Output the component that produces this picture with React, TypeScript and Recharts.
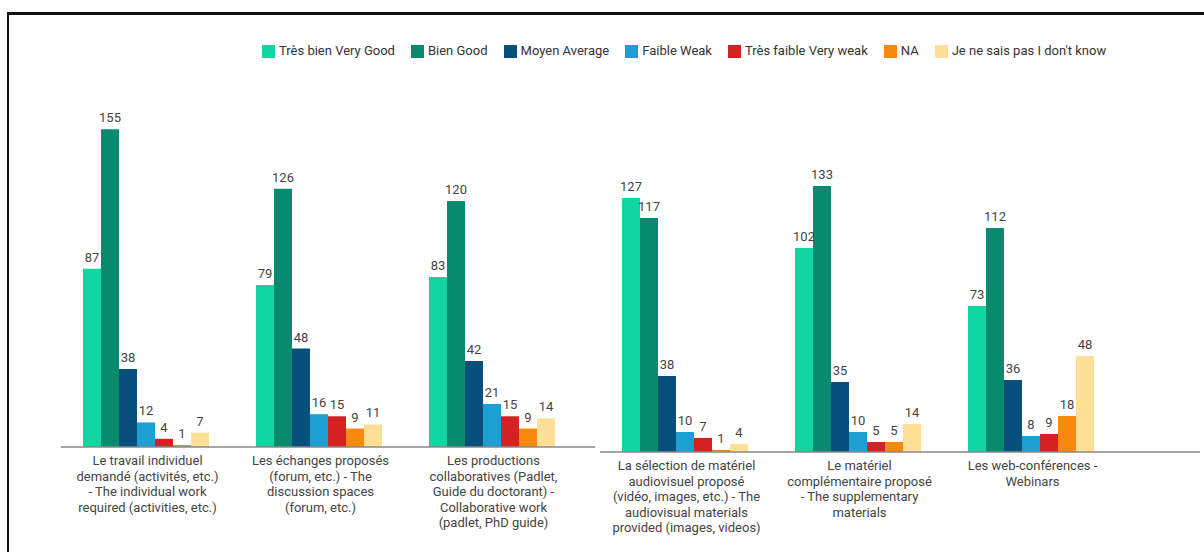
import React from "react";
import { BarChart, Bar, XAxis, YAxis, Legend, LabelList } from "recharts";

// categories (tick labels are split on "\n", as wrapped in the picture)
const categories = [
  "Le travail individuel\ndemandé (activités, etc.)\n- The individual work\nrequired (activities, etc.)",
  "Les échanges proposés\n(forum, etc.) - The\ndiscussion spaces\n(forum, etc.)",
  "Les productions\ncollaboratives (Padlet,\nGuide du doctorant) -\nCollaborative work\n(padlet, PhD guide)",
  "La sélection de matériel\naudiovisuel proposé\n(vidéo, images, etc.) - The\naudiovisual materials\nprovided (images, videos)",
  "Le matériel\ncomplémentaire proposé\n- The supplementary\nmaterials",
  "Les web-conférences -\nWebinars",
];

const tresBien = [87, 79, 83, 127, 102, 73];
const bien = [155, 126, 120, 117, 133, 112];
const moyen = [38, 48, 42, 38, 35, 36];
const faible = [12, 16, 21, 10, 10, 8];
const tresFaible = [4, 15, 15, 7, 5, 9];
const na = [1, 9, 9, 1, 5, 18];
const nsp = [7, 11, 14, 4, 14, 48];

const series = [
  { key: "tresBien", name: "Très bien Very Good", color: "#12d6a2", values: tresBien },
  { key: "bien", name: "Bien Good", color: "#078a6d", values: bien },
  { key: "moyen", name: "Moyen Average", color: "#07507c", values: moyen },
  { key: "faible", name: "Faible Weak", color: "#1c9fd3", values: faible },
  { key: "tresFaible", name: "Très faible Very weak", color: "#d42222", values: tresFaible },
  { key: "na", name: "NA", color: "#f78a0d", values: na },
  { key: "nsp", name: "Je ne sais pas I don't know", color: "#fde096", values: nsp },
];

const rows = categories.map((label, i) => {
  const row: Record<string, string | number> = { label };
  series.forEach((s) => (row[s.key] = s.values[i]));
  return row;
});

const leftRows = rows.slice(0, 3);
const rightRows = rows.slice(3);

const FONT = "Roboto, 'Noto Sans', sans-serif";

function WrappedTick(props: any) {
  const { x, y, payload } = props;
  const lines = String(payload.value).split("\n");
  return (
    <text x={x} y={y + 10} textAnchor="middle" fill="#444" fontSize={13} fontFamily={FONT}>
      {lines.map((l, i) => (
        <tspan key={i} x={x} dy={i === 0 ? 0 : 15.6}>
          {l}
        </tspan>
      ))}
    </text>
  );
}

function bars() {
  return series.map((s) => (
    <Bar key={s.key} dataKey={s.key} name={s.name} fill={s.color} isAnimationActive={false}>
      <LabelList dataKey={s.key} position="top" offset={7} fill="#444" fontSize={13} fontFamily={FONT} />
    </Bar>
  ));
}

const legendOrder = (item: any) => series.findIndex((s) => s.name === item.value);

export default function App() {
  return (
    <div style={{ position: "absolute", left: 0, top: 0, width: 1204, height: 552, background: "#fff", overflow: "hidden" }}>
      <div
        style={{
          position: "absolute",
          left: 7,
          top: 12,
          width: 1400,
          height: 700,
          borderTop: "3px solid #111",
          borderLeft: "2px solid #111",
        }}
      />
      <div style={{ position: "absolute", left: 0, top: 0 }}>
        <BarChart
          width={600}
          height={552}
          data={leftRows}
          margin={{ top: 104, right: 5, bottom: 5, left: 61 }}
          barCategoryGap={22}
          barGap={0}
        >
          <XAxis
            dataKey="label"
            interval={0}
            tick={<WrappedTick />}
            tickLine={false}
            axisLine={{ stroke: "#888", strokeWidth: 1.5 }}
            padding={{ left: 0, right: 15 }}
            height={100}
          />
          <YAxis hide domain={[0, 160]} />
          <Legend
            verticalAlign="top"
            align="left"
            iconType="square"
            iconSize={13}
            itemSorter={legendOrder}
            wrapperStyle={{ left: 262, top: 43, width: 900, fontFamily: FONT, fontSize: 13 }}
            formatter={(v: string) => <span style={{ color: "#333", marginRight: 6 }}>{v}</span>}
          />
          {bars()}
        </BarChart>
      </div>
      <div style={{ position: "absolute", left: 584, top: 0 }}>
        <BarChart
          width={620}
          height={552}
          data={rightRows}
          margin={{ top: 132, right: 4, bottom: 5, left: 16 }}
          barCategoryGap={22}
          barGap={0}
        >
          <XAxis
            dataKey="label"
            interval={0}
            tick={<WrappedTick />}
            tickLine={false}
            axisLine={{ stroke: "#888", strokeWidth: 1.5 }}
            padding={{ left: 0, right: 81 }}
            height={95}
          />
          <YAxis hide domain={[0, 160]} />
          {bars()}
        </BarChart>
      </div>
    </div>
  );
}
